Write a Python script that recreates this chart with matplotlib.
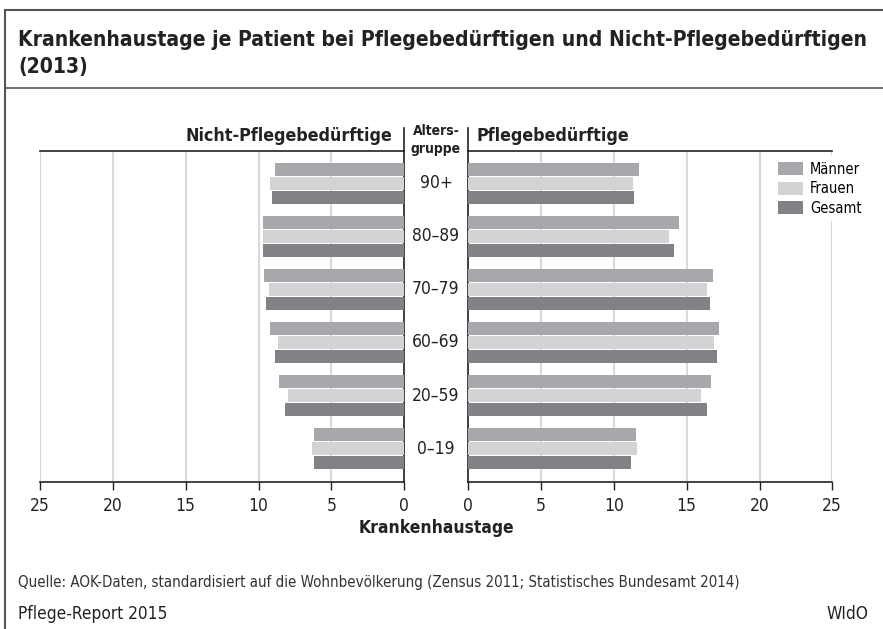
import matplotlib.pyplot as plt
from matplotlib.lines import Line2D
import numpy as np

plt.rcParams['font.family'] = ['DejaVu Sans']
plt.rcParams['font.stretch'] = 'condensed'

# data
groups = ['90+', '80–89', '70–79', '60–69', '20–59', '0–19']
series = ['Männer', 'Frauen', 'Gesamt']
colors = ['#a7a8ab', '#d2d3d5', '#808285']

nicht_maenner = [8.9, 9.7, 9.6, 9.2, 8.6, 6.2]
nicht_frauen = [9.2, 9.7, 9.3, 8.7, 8.0, 6.3]
nicht_gesamt = [9.1, 9.7, 9.5, 8.9, 8.2, 6.2]

pfl_maenner = [11.7, 14.5, 16.8, 17.2, 16.7, 11.5]
pfl_frauen = [11.3, 13.8, 16.4, 16.9, 16.0, 11.6]
pfl_gesamt = [11.4, 14.1, 16.6, 17.1, 16.4, 11.2]

ticks = [0, 5, 10, 15, 20, 25]

W, H = 883, 629
fig = plt.figure(figsize=(W / 100, H / 100), dpi=100)

def fx(px):
    return px / W

def fy(py):
    return 1 - py / H

ax_top, ax_bot = 151, 482
axL = fig.add_axes([fx(40), fy(ax_bot), fx(404.3 - 40), (ax_bot - ax_top) / H])
axR = fig.add_axes([fx(468.3), fy(ax_bot), fx(832.3 - 468.3), (ax_bot - ax_top) / H])

y = np.arange(len(groups))
off = 0.264
bh = 0.24

left_vals = [nicht_maenner, nicht_frauen, nicht_gesamt]
right_vals = [pfl_maenner, pfl_frauen, pfl_gesamt]

handles = []
for k in range(3):
    axL.barh(y + (k - 1) * off, left_vals[k], height=bh, color=colors[k], zorder=3)
    b = axR.barh(y + (k - 1) * off, right_vals[k], height=bh, color=colors[k],
                 zorder=3, label=series[k])
    handles.append(b)

for ax in (axL, axR):
    ax.set_ylim(5.629, -0.609)
    ax.set_yticks([])
    ax.set_xticks(ticks)
    ax.set_xticklabels([str(t) for t in ticks], fontsize=12.5)
    ax.grid(axis='x', color='#d9d9d9', lw=1.5, zorder=0)
    ax.tick_params(axis='x', direction='out', length=6, width=1, pad=5, colors='#222222')
    for s in ax.spines.values():
        s.set_color('#222222')
        s.set_linewidth(1.2)

axL.set_xlim(25, 0)
axR.set_xlim(0, 25)
axL.spines['left'].set_visible(False)
axR.spines['right'].set_visible(False)

# vertical separators above the panels
for xp in (404.3, 468.3):
    fig.add_artist(Line2D([fx(xp), fx(xp)], [fy(128), fy(ax_top)], color='#222222', lw=1.2))

# panel headers
fig.text(fx(392), fy(136), 'Nicht-Pflegebedürftige', ha='right', va='center',
         fontsize=12.8, fontweight='bold', color='#222222')
fig.text(fx(476), fy(136), 'Pflegebedürftige', ha='left', va='center',
         fontsize=12.8, fontweight='bold', color='#222222')
fig.text(fx(436), fy(140), 'Alters-\ngruppe', ha='center', va='center',
         fontsize=10, fontweight='bold', color='#222222', linespacing=1.35)

# age group labels
for i, g in enumerate(groups):
    yc = ax_top + (i + 0.609) * 53.06
    fig.text(fx(436), fy(yc), g, ha='center', va='center', fontsize=12.5, color='#222222')

fig.text(fx(436), fy(528), 'Krankenhaustage', ha='center', va='center',
         fontsize=12.5, fontweight='bold', color='#222222')

leg = axR.legend(handles=handles, loc='upper left',
                 bbox_to_anchor=(fx(772), fy(156)), bbox_transform=fig.transFigure,
                 frameon=True, facecolor='white', edgecolor='none', framealpha=1,
                 fontsize=10.5, handlelength=1.7, handleheight=1.0,
                 labelspacing=0.3, handletextpad=0.5, borderpad=0.4, borderaxespad=0,
                 fancybox=False)
leg.set_zorder(5)

# frame and title
frame_c = '#555555'
fig.add_artist(Line2D([fx(5), fx(5)], [fy(10), 0], color=frame_c, lw=1.5))
fig.add_artist(Line2D([fx(5), 1], [fy(10), fy(10)], color=frame_c, lw=1.5))
fig.add_artist(Line2D([fx(5), 1], [fy(88), fy(88)], color=frame_c, lw=1.2))

fig.text(fx(18), fy(40), 'Krankenhaustage je Patient bei Pflegebedürftigen und Nicht-Pflegebedürftigen',
         ha='left', va='center', fontsize=15.1, fontweight='bold', color='#222222')
fig.text(fx(18), fy(67), '(2013)',
         ha='left', va='center', fontsize=15.1, fontweight='bold', color='#222222')

# footer
fig.text(fx(18), fy(583), 'Quelle: AOK-Daten, standardisiert auf die Wohnbevölkerung (Zensus 2011; Statistisches Bundesamt 2014)',
         ha='left', va='center', fontsize=10.8, color='#333333')
fig.text(fx(18), fy(614), 'Pflege-Report 2015', ha='left', va='center', fontsize=12.4, color='#222222')
fig.text(fx(868), fy(614), 'WIdO', ha='right', va='center', fontsize=12.4, color='#222222')

fig.savefig('out.png', dpi=100)
